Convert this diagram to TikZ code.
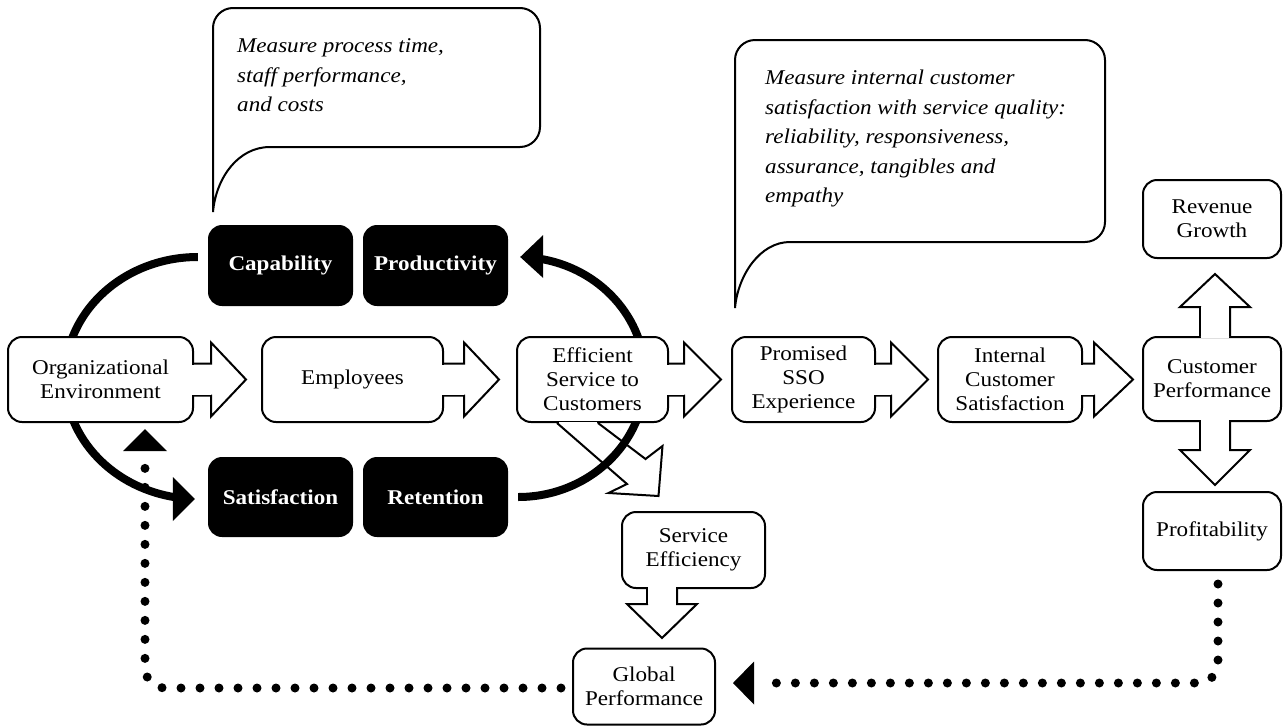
\documentclass[tikz,border=0pt]{standalone}
\usepackage{fontspec}
\setmainfont[FakeStretch=1.1]{Liberation Serif}
\usetikzlibrary{calc,backgrounds}
\tikzset{
  whitebox/.style={draw, line width=2pt, rounded corners=14pt, fill=white, inner sep=0pt, align=center, font=\fontsize{21}{24}\selectfont},
  blackbox/.style={fill=black, rounded corners=14pt, inner sep=0pt, text=white, align=center, font=\fontsize{21}{24}\selectfont\bfseries},
  arrowline/.style={line width=2pt, line join=miter},
  bigarc/.style={line width=8pt},
  dotline/.style={line width=9pt, line cap=round, dash pattern=on 0pt off 19pt, rounded corners=20pt},
  bubbleline/.style={line width=2pt},
  bubbletext/.style={anchor=north west, align=left, inner sep=0pt, font=\fontsize{21}{29.5}\selectfont\itshape},
}
\newcommand\calloutarrow[6]{%
  \begin{scope}[shift={#1}, rotate=#2]
    \filldraw[arrowline, fill=white] (0,-#5) -- (#3,-#5) -- (#3,-#6) -- ({#3+#4},0) -- (#3,#6) -- (#3,#5) -- (0,#5);
    \fill[white] (-1.6,{-#5+1}) rectangle (#3,{#5-1});
  \end{scope}}
\begin{document}
\begin{tikzpicture}[x=1pt,y=-1pt]
\useasboundingbox (0,0) rectangle (1283,726);

% main row
\node[whitebox, minimum width=185pt, minimum height=85pt] (org) at (100.5,379.5) {Organizational\\Environment};
\node[whitebox, minimum width=181pt, minimum height=85pt] (emp) at (352.5,379.5) {Employees};
\node[whitebox, minimum width=151pt, minimum height=85pt] (eff) at (592.5,379.5) {Efficient\\Service to\\Customers};
\node[whitebox, minimum width=143pt, minimum height=85pt] (sso) at (803.5,379.5) {Promised\\SSO\\Experience};
\node[whitebox, minimum width=144pt, minimum height=85pt] (ics) at (1010,379.5) {Internal\\Customer\\Satisfaction};
\node[whitebox, minimum width=138pt, minimum height=84pt] (cp) at (1212,379) {Customer\\Performance};
\node[whitebox, minimum width=138pt, minimum height=78pt] (rev) at (1212,219) {Revenue\\Growth};
\node[whitebox, minimum width=138pt, minimum height=78pt] (prof) at (1212,531) {Profitability};
\node[whitebox, minimum width=143pt, minimum height=76pt] (sef) at (693.5,550) {Service\\Efficiency};
\node[whitebox, minimum width=142pt, minimum height=76pt] (glob) at (644,686.5) {Global\\Performance};

% black boxes
\node[blackbox, minimum width=145pt, minimum height=81pt] (cap) at (280.5,265.5) {Capability};
\node[blackbox, minimum width=145pt, minimum height=81pt] (prod) at (435.5,265.5) {Productivity};
\node[blackbox, minimum width=145pt, minimum height=80pt] (sat) at (280.5,497) {Satisfaction};
\node[blackbox, minimum width=145pt, minimum height=80pt] (ret) at (435.5,497) {Retention};

% big arcs behind
\begin{scope}[on background layer]
  \draw[bigarc] ($(cap.west)+(-10,-8.5)$) arc[start angle=90, end angle=262, x radius=133pt, y radius=121pt];
  \fill ($(sat.west)+(-13,2)$) -- ($(sat.west)+(-35,-20)$) -- ($(sat.west)+(-35,24)$) -- cycle;
  \draw[bigarc] ($(ret.east)+(10,0)$) arc[start angle=-90, end angle=81, x radius=127pt, y radius=120pt];
  \fill ($(prod.east)+(12,-8.5)$) -- ($(prod.east)+(35,-30.5)$) -- ($(prod.east)+(35,12.5)$) -- cycle;
\end{scope}

% callout arrows
\calloutarrow{(org.east)}{0}{17}{35}{16}{37}
\calloutarrow{(emp.east)}{0}{20}{35}{16}{37}
\calloutarrow{(eff.east)}{0}{15}{37}{16}{37}
\calloutarrow{(sso.east)}{0}{15}{37}{16}{37}
\calloutarrow{(ics.east)}{0}{11}{39}{16}{37}
\calloutarrow{($(cp.north)+(3,0)$)}{90}{29}{33}{15}{35}
\calloutarrow{($(cp.south)+(3,0)$)}{-90}{28}{35}{15}{35}
\calloutarrow{($(sef.south)+(-31.5,0)$)}{-90}{15}{34}{15}{35}

% diagonal arrow from Efficient Service
\fill[white] ($(eff.south)+(-34,-1.5)$) rectangle ($(eff.south)+(4,1.5)$);
\draw[arrowline] ($(eff.south)+(-35.5,0)$) -- ++(70,61) -- ++(-18.5,9) -- ++(50,3) -- ++(4,-50) -- ++(-17,13) -- ($(eff.south)+(5.5,0)$);

% dotted feedback lines
\draw[dotline] ($(prof.south)+(6,13)$) |- ($(glob.east)+(45,-3.5)$);
\fill ($(glob.east)+(17,-3.5)$) -- ($(glob.east)+(38,-25)$) -- ($(glob.east)+(38,18)$) -- cycle;
\draw[dotline] ($(glob.west)+(-11,1.5)$) -| ($(org.south)+(44.5,43)$);
\fill ($(org.south)+(44.5,6)$) -- ($(org.south)+(22.5,28)$) -- ($(org.south)+(66.5,28)$) -- cycle;

% speech bubbles
\draw[bubbleline] (213,212) -- (213,28) arc[start angle=180, end angle=90, radius=20pt] -- (520,8)
  arc[start angle=90, end angle=0, radius=20pt] -- (540,127)
  arc[start angle=0, end angle=-90, radius=20pt] -- (270,147)
  .. controls (238,147) and (216,178) .. (213,212);
\node[bubbletext] (note1) at (237,38.7) {Measure process time,\\staff performance,\\and costs};

\draw[bubbleline] (735,308) -- (735,60) arc[start angle=180, end angle=90, radius=20pt] -- (1085,40)
  arc[start angle=90, end angle=0, radius=20pt] -- (1105,222)
  arc[start angle=0, end angle=-90, radius=20pt] -- (790,242)
  .. controls (760,242) and (738,275) .. (735,308);
\node[bubbletext] (note2) at (765,70) {Measure internal customer\\satisfaction with service quality:\\reliability, responsiveness,\\assurance, tangibles and\\empathy};
\end{tikzpicture}
\end{document}
